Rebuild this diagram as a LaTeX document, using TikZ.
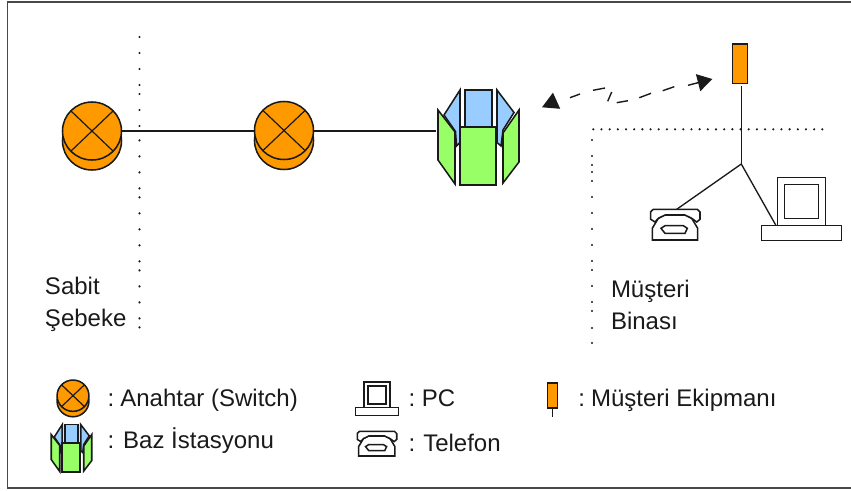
\documentclass[tikz,border=0pt]{standalone}
\usepackage{fontspec}
\setmainfont{Liberation Sans}
\usetikzlibrary{arrows.meta}
\definecolor{ora}{HTML}{FF9900}
\definecolor{blu}{HTML}{99CCFF}
\definecolor{gre}{HTML}{99FF66}
\definecolor{ink}{HTML}{1A1A1A}
\tikzset{
  ln/.style={draw=ink,line width=1.15pt,line join=miter},
  thinln/.style={draw=ink,line width=1pt},
  lbl/.style={anchor=base west,inner sep=0pt,outer sep=0pt,font=\fontsize{18}{18}\selectfont,text=ink},
  eqbox/.style={draw=ink,line width=1.15pt,fill=ora,inner sep=0pt,rectangle},
  frameln/.style={draw=ink!80,line width=1.2pt},
  wave/.style={draw=ink,line width=1.05pt},
  switchicon/.pic={
    \path[ln,fill=ora] (0,10) circle[x radius=29.5,y radius=29];
    \path[ln,fill=ora] (0,0) circle[x radius=29.5,y radius=29];
    \draw[ink,line width=0.9pt] (-21,-20) -- (21,20) (21,-20) -- (-21,20);
    \coordinate (-e) at (30,0);
    \coordinate (-w) at (-29.5,0);
  },
  basestation/.pic={
    \path[ln,fill=blu] (-13.5,-47.5) rectangle (13.5,-10.5);
    \path[ln,fill=blu] (-18.5,-47.5) -- (-34.5,-22.5) -- (-23,-6) -- (-22,8.5) -- (-18.5,5) -- cycle;
    \path[ln,fill=blu] (18.5,-47.5) -- (35.5,-25) -- (24.5,-7.5) -- (22.5,8.5) -- (18.5,5) -- cycle;
    \path[ln,fill=gre] (-40.5,-27.5) -- (-23.5,-5.5) -- (-23.5,46.5) -- (-40.5,22.5) -- cycle;
    \path[ln,fill=gre] (40.5,-27.5) -- (24.5,-4.5) -- (24.5,45.5) -- (40.5,24.5) -- cycle;
    \path[ln,fill=gre] (-18.5,-10.5) rectangle (17.5,47.5);
    \coordinate (-w) at (-42.5,-6.5);
  },
  pcicon/.pic={
    \path[ln,fill=white] (-24.2,-31.7) rectangle (24.2,16.7);
    \path[ln] (-17.2,-24.3) rectangle (17.2,9.7);
    \path[ln,fill=white] (-40.2,16.7) rectangle (40.2,31.7);
    \coordinate (-n) at (-25.8,16);
  },
  phoneicon/.pic={
    \path[ln,fill=white] (-23,15) -- (-23,3.3) -- (-17,-6.7) -- (-10.3,-10) -- (9.7,-10) -- (16.4,-6.7) -- (22.4,3.3) -- (22.4,15) -- cycle;
    \path[ln,fill=white] (-24.6,-13.3) -- (-22,-15.7) -- (22,-15.7) -- (24.7,-13) -- (24.7,-5.7) -- (21.4,-3) -- (16.4,-6.7) -- (9.7,-10) -- (-10.3,-10) -- (-17,-6.7) -- (-20.3,-3) -- (-24.6,-5.7) -- cycle;
    \path[ln] (-14.3,3.3) -- (-10.3,.7) -- (8,.7) -- (12,3.3) -- (9.7,8.3) -- (-10.3,8.3) -- cycle;
    \coordinate (-n) at (1.4,-15.7);
  }
}
\begin{document}
\begin{tikzpicture}[x=0.75pt,y=-0.75pt]
\useasboundingbox (0,0) rectangle (851,490);
\fill[white] (0,0) rectangle (851,490);
% frame
\draw[frameln] (851,2) -- (7.5,2) -- (7.5,488) -- (851,488);
% dotted boundaries
\foreach \yy in {37,53,69,85,94,110,126,140.3,156.3,172.3,188.3,197.3,213.3,229.3,245.3,261.3,270.3,286.3,302.3,318.3,327.3}
  \fill[ink] (139.5,\yy) circle[radius=1.2];
\foreach \yy in {140,156,165,172,181,197,213,229,245,261,270,286,302,311,328,343}
  \fill[ink] (592,\yy) circle[radius=1.2];
\foreach \ii in {0,...,28}
  \fill[ink] ({593.3+8.18*\ii},129.3) circle[radius=1.2];
% main icons
\pic (sw1) at (92,131) {switchicon};
\pic (sw2) at (284,130.5) {switchicon};
\pic (bs) at (478.5,137.5) {basestation};
\pic (pc) at (801.5,209) {pcicon};
\pic (tel) at (675.3,225) {phoneicon};
\node[eqbox,minimum width=11.5pt,minimum height=29.5pt] (eq) at (740,63.7) {};
% connectors
\coordinate (eqb) at (741.3,86);
\coordinate (junc) at (741.3,164);
\draw[ln] (sw1-e) -- (sw2-w |- sw1-e);
\draw[ln] (sw2-e |- sw1-e) -- (bs-w |- sw1-e);
\draw[ln] (eqb) -- (junc);
\draw[thinln] (junc) -- (tel-n);
\draw[thinln] (junc) -- (pc-n);
% wireless link
\coordinate (wl) at (542,107.3);
\coordinate (wlb) at (556,101);
\coordinate (wr) at (712.3,79);
\coordinate (wrb) at (688,85.3);
\draw[-{Triangle[length=12pt,width=13pt]},wave] (wlb) -- (wl);
\draw[wave] (570,97.7) -- (580,94) (593,90.3) -- (605,88) (611.7,92) -- (607.7,101.3) (616.7,102.7) -- (628,100.7)
  (639.3,97.7) -- (651,93.3) (662.7,90.7) -- (674.3,86.7);
\draw[-{Triangle[length=11pt,width=13pt]},wave] (wrb) -- (wr);
% labels
\node[lbl] (sabit) at (45,294) {Sabit};
\node[lbl] (sebeke) at (45,326) {Şebeke};
\node[lbl] (musteri) at (611,297) {Müşteri};
\node[lbl] (binasi) at (611,329) {Binası};
% legend
\pic[scale=.54] (lsw) at (73,395.7) {switchicon};
\pic[scale=.5] (lbs) at (71.5,448.3) {basestation};
\pic[scale=.53] (lpc) at (377,398.7) {pcicon};
\pic[scale=.8] (ltel) at (377,444) {phoneicon};
\node[eqbox,minimum width=7.5pt,minimum height=19pt] (leq) at (552.3,395.5) {};
\coordinate (leqe) at (552.3,416.7);
\draw[ln] (leq.south) -- (leqe);
\node[lbl] (t1) at (107.6,406.7) {:\hspace{4.6pt}Anahtar (Switch)};
\node[lbl] (t2) at (107.6,448.3) {: Baz İstasyonu};
\node[lbl] (t3) at (408.6,406) {:\hspace{5pt}PC};
\node[lbl] (t4) at (408.6,451.7) {:\hspace{6pt}Telefon};
\node[lbl] (t5) at (578.3,406.7) {:\hspace{4.6pt}Müşteri Ekipmanı};
\end{tikzpicture}
\end{document}
